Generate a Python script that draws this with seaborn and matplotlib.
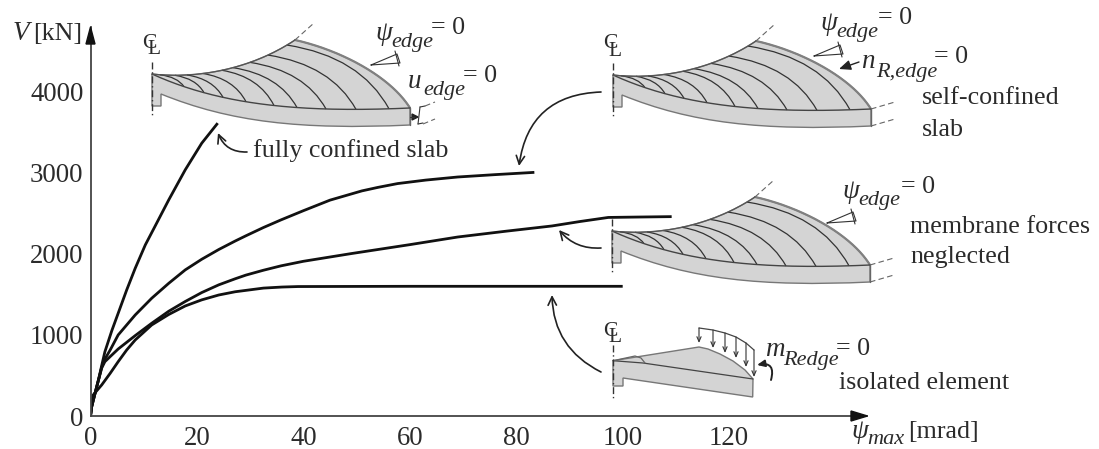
import numpy as np
import pandas as pd
import matplotlib
matplotlib.use("Agg")
import matplotlib.pyplot as plt
import seaborn as sns
from matplotlib.path import Path
from matplotlib.patches import PathPatch, Polygon

# values
fully_x = [0, 0.22, 0.85, 1.5, 2.1, 2.7, 4, 5.2, 6.8, 8.4, 10.3, 12.1, 14.7, 17.8, 20.9, 23.9]
fully_v = [0, 115, 279, 444, 620, 790, 1050, 1265, 1552, 1819, 2107, 2333, 2661, 3031, 3359, 3606]
self_x = [0, 0.22, 0.85, 1.5, 2.1, 2.7, 3.7, 5.2, 8.4, 11.5, 14.7, 17.8, 20.9, 24.1, 27.2, 29.2,
          32.5, 35.8, 40, 45, 51, 54, 57.7, 63, 69, 76, 83.4]
self_v = [0, 115, 279, 444, 600, 700, 813, 998, 1244, 1450, 1634, 1799, 1930, 2050, 2155, 2219,
          2321, 2415, 2528, 2658, 2772, 2815, 2862, 2905, 2943, 2972, 3000]
memb_x = [0, 0.22, 0.85, 1.5, 2.1, 2.7, 5.2, 8.4, 11.5, 14.7, 17.8, 20.9, 24.1, 27.2, 29.2, 32.5,
          35.8, 40, 49, 60, 69, 78, 86.7, 92, 97.3, 103, 109.2]
memb_v = [0, 115, 279, 444, 590, 669, 825, 990, 1142, 1290, 1410, 1520, 1615, 1690, 1735, 1795,
          1849, 1905, 2000, 2110, 2204, 2275, 2340, 2395, 2445, 2450, 2455]
isol_x = [0, 0.5, 2.1, 3.7, 5.2, 6.8, 8.4, 11.5, 14.7, 17.8, 20.9, 24.1, 27.2, 32.5, 36, 39, 60, 100]
isol_v = [0, 259, 382, 526, 669, 813, 936, 1121, 1250, 1355, 1430, 1490, 1530, 1575, 1588, 1594, 1597, 1597]
x_ticks = [0, 20, 40, 60, 80, 100, 120]
y_ticks = [0, 1000, 2000, 3000, 4000]

curves = [("fully confined slab", fully_x, fully_v),
          ("self-confined slab", self_x, self_v),
          ("membrane forces neglected", memb_x, memb_v),
          ("isolated element", isol_x, isol_v)]
rows = []
for name, xs, vs in curves:
    rows.append(pd.DataFrame({"case": name, "psi": xs, "V": vs}))
df = pd.concat(rows, ignore_index=True)

sns.set_style("white")
plt.rcParams["font.family"] = ["Liberation Serif", "DejaVu Serif"]

W, H = 1099, 449
INK = "#2b2b2b"
fig = plt.figure(figsize=(W / 100, H / 100), dpi=100)
ax = fig.add_axes([90.5 / W, (H - 416) / H, 777 / W, 389 / H])
sns.lineplot(data=df, x="psi", y="V", units="case", estimator=None, sort=False,
             color="#111111", linewidth=2.0, ax=ax, solid_capstyle="butt")
ax.set_xlim(0, 146)
ax.set_ylim(0, 4790)
ax.set_xticks(x_ticks)
ax.set_yticks(y_ticks)
ax.set_xlabel("")
ax.set_ylabel("")
ax.tick_params(direction="in", length=9, width=1.2, color="#444444", labelsize=19.3,
               labelcolor=INK, pad=5)
ax.tick_params(axis="x", pad=7)
for side in ["top", "right"]:
    ax.spines[side].set_visible(False)
for side in ["left", "bottom"]:
    ax.spines[side].set_color("#444444")
    ax.spines[side].set_linewidth(1.3)

# overlay in image pixels for the slab sketches and labels
ov = fig.add_axes([0, 0, 1, 1])
ov.set_xlim(0, W)
ov.set_ylim(H, 0)
ov.axis("off")

ov.add_patch(Polygon([[867.5, 416], [851, 411], [851, 421]], color="#111111"))
ov.add_patch(Polygon([[90.5, 27], [86, 44], [95, 44]], color="#111111"))


def bez(p0, c1, c2, p3, n=200):
    t = np.linspace(0, 1, n)[:, None]
    p0, c1, c2, p3 = map(np.array, (p0, c1, c2, p3))
    return (1 - t) ** 3 * p0 + 3 * (1 - t) ** 2 * t * c1 + 3 * (1 - t) * t ** 2 * c2 + t ** 3 * p3


def line(xs, ys, dx=0, dy=0, **kw):
    ov.plot(np.array(xs) + dx, np.array(ys) + dy, **kw)


def cl(x, y):
    ov.text(x, y, "C", fontsize=15.5, ha="center", va="center", color=INK)
    ov.text(x + 5, y + 7, "L", fontsize=15.5, ha="center", va="center", color=INK)


def slab(dx, dy, right_dashes=True, symbol=True):
    up = [(152, 74), (195, 79), (250, 70), (295, 40)]
    out = [(295, 40), (340, 50), (390, 76), (410, 108)]
    front = [(152, 74), (220, 105), (300, 113), (410, 108)]
    bot = [(161, 94), (230, 122), (300, 130), (410, 125)]
    verts = up + out[1:] + [(410, 125)] + bot[::-1][1:] + [(161, 106), (152, 106), (152, 74)]
    codes = [Path.MOVETO] + [Path.CURVE4] * 6 + [Path.LINETO] + [Path.CURVE4] * 3 \
        + [Path.LINETO] * 3
    verts = [(x + dx, y + dy) for x, y in verts]
    ov.add_patch(PathPatch(Path(verts, codes), facecolor="#d4d4d4", edgecolor="#777777", lw=1.0))
    up_pts = bez(*up)
    fr_pts = bez(*front)
    out_pts = bez(*out)
    line(out_pts[:, 0], out_pts[:, 1], dx, dy, color="#808080", lw=1.6)
    line(fr_pts[:, 0], fr_pts[:, 1], dx, dy, color="#444444", lw=1.0)
    line(up_pts[:, 0], up_pts[:, 1], dx, dy, color="#555555", lw=0.9)
    line([410, 410], [108, 125], dx, dy, color="#666666", lw=1.0)
    starts = [160, 175, 187, 203, 222, 233, 250, 268, 287]
    ends = [184, 204, 223, 246, 274, 297, 326, 356, 389]
    for sx, ex in zip(starts, ends):
        sy = np.interp(sx, up_pts[:, 0], up_pts[:, 1])
        ey = np.interp(ex, fr_pts[:, 0], fr_pts[:, 1])
        ring = Path([(sx + dx, sy + dy),
                     (sx + 0.72 * (ex - sx) + dx, sy + 0.18 * (ey - sy) + dy),
                     (ex + dx, ey + dy)],
                    [Path.MOVETO, Path.CURVE3, Path.CURVE3])
        ov.add_patch(PathPatch(ring, fill=False, edgecolor="#333333", lw=0.9))
    # symmetry line and cut lines
    line([152, 152], [62, 115], dx, dy, color="#333333", lw=1.0, dashes=(5, 2, 1, 2))
    line([295, 314], [40, 23], dx, dy, color="#666666", lw=0.8, dashes=(5, 3))
    if right_dashes:
        line([410, 434], [108, 101], dx, dy, color="#666666", lw=0.8, dashes=(5, 3))
        line([410, 434], [125, 118], dx, dy, color="#666666", lw=0.8, dashes=(5, 3))
    if symbol:
        cl(dx + 149, dy + 43)


def txt(x, y, s, size=18.7, style="normal"):
    ov.text(x, y, s, fontsize=size, style=style, ha="left", va="center", color=INK)


def sym(x, y, main, sub, sub_dx, rest_dx, sub_dy=9, rest_dy=-5, rest="= 0"):
    txt(x, y, main, 19.5, "italic")
    txt(x + sub_dx, y + sub_dy, sub, 16, "italic")
    if rest:
        txt(x + rest_dx, y + rest_dy, rest, 18.7)


def angle(dx, dy):
    line([371, 397, 400, 371], [65, 54, 63, 65], dx, dy, color="#333333", lw=0.8)
    line([395, 399], [51, 66], dx, dy, color="#333333", lw=0.8)


def curved(start, end, rad, lw=1.2, head="->,head_length=0.6,head_width=0.3"):
    ov.annotate("", xy=end, xytext=start, annotation_clip=False,
                arrowprops=dict(arrowstyle=head, connectionstyle=f"arc3,rad={rad}",
                                color="#222222", lw=lw, shrinkA=0, shrinkB=0))


slab(0, 0, right_dashes=False)
slab(461, 1)
slab(460, 157, symbol=False)

# isolated element
iso = [(613, 360.7), (699, 347), (708, 349), (720, 354), (733, 361), (745, 370), (753, 379),
       (752.7, 397), (623, 378), (623, 386), (613, 386)]
ov.add_patch(Polygon(iso, closed=True, facecolor="#d4d4d4", edgecolor="#777777", lw=1.0))
line([613, 643, 753], [360.7, 363, 379], color="#444444", lw=0.9)
line([613, 635, 641, 645], [360.7, 356, 358, 363], color="#666666", lw=0.9)
line([613, 613], [345, 398], color="#333333", lw=1.0, dashes=(5, 2, 1, 2))
cl(610, 331)
load_x = [699, 713, 725, 736, 746, 754]
load_top = [328, 330, 333, 337, 343, 350]
load_tip = [343, 348, 353, 358, 367, 377]
line(load_x, load_top, color="#444444", lw=0.9)
for lx, lt, lb in zip(load_x, load_top, load_tip):
    ov.annotate("", xy=(lx, lb), xytext=(lx, lt),
                arrowprops=dict(arrowstyle="->,head_length=0.35,head_width=0.15",
                                color="#333333", lw=0.8, shrinkA=0, shrinkB=0))
curved((771, 380), (757, 365), 0.8, lw=1.4, head="-|>,head_length=0.45,head_width=0.2")

# small edge symbols
angle(0, 0)
angle(443, -9)
angle(456, 158)
line([420, 418], [107, 124], color="#333333", lw=0.8)
line([420, 425], [107, 106], color="#333333", lw=0.8)
line([418, 423], [124, 123], color="#333333", lw=0.8)
line([410, 414], [117, 117], color="#333333", lw=0.8)
ov.add_patch(Polygon([[418, 117], [412, 114], [412, 120]], color="#222222"))
line([425, 435], [106, 102], color="#666666", lw=0.8, dashes=(5, 3))
line([423, 435], [124, 119], color="#666666", lw=0.8, dashes=(5, 3))
curved((859, 62), (839, 69), 0, lw=1.0, head="-|>,head_length=0.7,head_width=0.3")

# call-out arrows
curved((247, 152), (218, 133), -0.35)
curved((601, 92), (519, 166), 0.42)
curved((601, 248), (559, 230), -0.25)
curved((601, 372), (552, 295), -0.3)

# labels
txt(13, 34, "V", 19.5, "italic")
txt(33, 34, "[kN]", 18.7)
sym(375, 33, "ψ", "edge", 16, 56)
sym(408, 81, "u", "edge", 15, 55)
sym(820, 23, "ψ", "edge", 16, 58)
sym(861, 62, "n", "R,edge", 15, 73, sub_dy=10)
sym(842, 192, "ψ", "edge", 16, 59)
sym(765, 350, "m", "Redge", 18, 71, sub_dy=10, rest_dy=-1)
sym(851, 432, "ψ", "max", 16, 57, sub_dy=7, rest="[mrad]", rest_dy=0)
txt(253, 151, "fully confined slab")
txt(922, 98, "self-confined")
txt(922, 130, "slab")
txt(910, 227, "membrane forces")
txt(910, 257, "neglected")
txt(839, 383, "isolated element")

fig.savefig("out.png", dpi=100)
